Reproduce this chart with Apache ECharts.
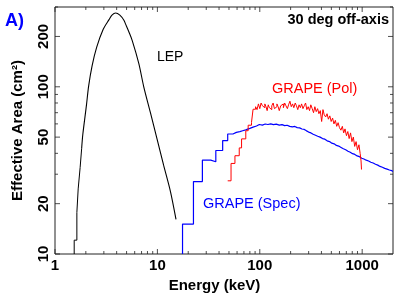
<!DOCTYPE html>
<html>
<head>
<meta charset="utf-8">
<script src="https://cdn.jsdelivr.net/npm/echarts@6/dist/echarts.min.js"></script>
<style>
html,body{margin:0;padding:0;background:#fff;}
#c{width:408px;height:298px;}
</style>
</head>
<body>
<div id="c"></div>
<script>
// ---- data (energy keV, effective area cm^2) ----
const lepSteps = [[1.54,10],[1.54,12.1],[1.635,17.7],[1.684,24.5],[1.76,32.9],[1.82,42.6]];
const lepCurve = [[1.82,42.6],[1.87,52],[2.03,78],[2.13,101],[2.3,133],[2.55,172],[2.95,220],[3.37,252],[3.6,268],[3.91,276],[4.3,268],[4.71,250],[4.89,237],[5.25,214],[5.68,189],[6.58,138],[7.36,100],[8.55,70],[9.93,48.7],[11.5,34],[13.4,23.7],[15.2,16.1]];
const specSteps = [[17.6,10],[17.6,15.1],[22.5,27.1],[27.5,36.4],[33.2,35.6],[37.2,41.6],[43.4,47.7],[48.6,52.2],[54.7,53.4],[59,53.9],[63.9,54.6],[68,55.0],[71.5,55.8],[76,56.4],[80,57.4],[86,58.3],[92.9,59.5],[99,59.0],[106,59.9],[113,59.5],[120,60.0],[128,59.4],[136,59.8],[145,59.0],[155,59.4],[165,58.6],[175,58.9],[185,58.0],[196,57.6],[208,57.9],[220,57.0],[232,56.8],[245,55.9],[258,55.6],[272,54.5],[286,53.6],[300,53.0],[316,52.0],[332,51.3],[350,50.6],[368,50.0],[388,49.0],[410,48.6],[432,47.5],[455,47.0],[480,46.0],[505,45.6],[532,44.6],[560,44.2],[590,43.4],[622,42.6],[655,42.0],[690,41.2],[727,40.6],[765,39.8],[805,39.4],[848,38.6],[893,38.2],[940,37.4],[990,37.0],[1040,36.4],[1095,36.0],[1155,35.4],[1215,35.0],[1280,34.4],[1350,34.0],[1420,33.4],[1495,33.0],[1575,32.5],[1660,32.2],[1750,31.8],[1845,31.5],[1945,31.2],[2000,31.2]];
const polSteps = [[48.6,27.4],[52.4,34.8],[57.2,38.7],[63,43.1],[66.4,48.8],[73,54.6],[77,58.9],[83,61.2],[86,73.4],[91,76],[94,73],[97,79],[100,74],[103,80],[106,77],[109,75],[112,79],[115,76],[118,72],[121,78],[124,75],[128,73],[131,77],[135,80],[139,74],[143,76],[147,79],[151,76],[155,72],[160,77],[165,79],[170,75],[175,80],[180,77],[186,74],[191,78],[197,82],[203,76],[209,79],[215,75],[222,80],[228,77],[235,73],[242,78],[249,75],[256,79],[264,74],[272,77],[280,80],[288,73],[297,76],[306,72],[315,78],[325,74],[335,70],[345,76],[356,71],[367,74],[378,69],[390,72],[402,62],[414,73],[426,68],[440,66],[454,69],[468,64],[483,67],[498,62],[514,65],[530,60],[547,63],[564,58],[582,61],[600,57],[620,55],[640,58],[660,53],[680,56],[702,51],[724,54],[746,49],[770,53],[794,47],[820,50],[845,44],[872,47],[900,42],[930,45],[955,40],[975,36],[985,32]];
const xTickLabels = [1,10,100,1000];
const xMinorTicks = [2,3,4,5,6,7,8,9,20,30,40,50,60,70,80,90,200,300,400,500,600,700,800,900];
const yTickLabels = [10,20,50,100,200];
const yMinorTicks = [30,40,60,70,80,90,300];
const xRange = [1,2000];
const yRange = [10,300];

const lg = v => Math.log10(v);
const FONT = 'Liberation Sans';
const tickColor = '#222';

function labelAxis(pos, range, labels, dim){
  const ax = {
    type:'value', position:pos, min:lg(range[0]), max:lg(range[1]),
    splitLine:{show:false},
    axisLine:{show:false, onZero:false},
    axisTick:{show:false},
    axisLabel:{show:true, customValues:labels.map(lg), formatter:v=>String(Math.round(Math.pow(10,v))),
      fontFamily:FONT, fontWeight:'bold', fontSize:15, color:'#000', margin:4},
    silent:true
  };
  if (dim==='y') ax.axisLabel.rotate = 90;
  return ax;
}

const xAxes = [
  {type:'log', min:xRange[0], max:xRange[1], show:false, axisLine:{onZero:false}},
  Object.assign(labelAxis('bottom', xRange, xTickLabels, 'x'),
    {name:'Energy (keV)', nameLocation:'middle', nameGap:24,
     nameTextStyle:{fontFamily:FONT, fontWeight:'bold', fontSize:15, color:'#000', padding:[0,19,0,0]}})
];
const yAxes = [
  {type:'log', min:yRange[0], max:yRange[1], show:false, axisLine:{onZero:false}},
  Object.assign(labelAxis('left', yRange, yTickLabels, 'y'),
    {name:'Effective Area (cm²)', nameLocation:'middle', nameGap:30,
     nameTextStyle:{fontFamily:FONT, fontWeight:'bold', fontSize:15, color:'#000'}})
];

function lineSeries(data, color, width, opts){
  return Object.assign({type:'line', data:data, xAxisIndex:0, yAxisIndex:0, symbol:'none',
    lineStyle:{color:color, width:width}, itemStyle:{color:color}, silent:true, clip:true}, opts||{});
}

// inward tick marks placed through the log scales
function tickSeries(side, majors, minors){
  const horiz = side==='bottom' || side==='top';
  const pts = [];
  majors.forEach(v => pts.push({v:v, len:5}));
  minors.forEach(v => pts.push({v:v, len:3}));
  const data = pts.map(p => {
    let d;
    if (side==='bottom') d=[p.v, yRange[0]];
    else if (side==='top') d=[p.v, yRange[1]];
    else if (side==='left') d=[xRange[0], p.v];
    else d=[xRange[1], p.v];
    const size = horiz ? [1, p.len] : [p.len, 1];
    const off = side==='bottom' ? [0, -p.len/2] : side==='top' ? [0, p.len/2] : side==='left' ? [p.len/2, 0] : [-p.len/2, 0];
    return {value:d, symbolSize:size, symbolOffset:off};
  });
  return {type:'scatter', data:data, xAxisIndex:0, yAxisIndex:0, symbol:'rect', clip:false, silent:true,
    itemStyle:{color:tickColor}, z:1};
}

const chart = echarts.init(document.getElementById('c'), null, {renderer:'canvas'});
chart.setOption({
  animation:false,
  grid:{left:55, top:7, width:338, height:250, containLabel:false, show:true, borderColor:'#222', borderWidth:1, backgroundColor:'transparent'},
  xAxis:xAxes,
  yAxis:yAxes,
  series:[
    tickSeries('bottom', xTickLabels, xMinorTicks),
    tickSeries('top', xTickLabels, xMinorTicks),
    tickSeries('left', yTickLabels, yMinorTicks),
    tickSeries('right', yTickLabels, yMinorTicks),
    lineSeries(lepSteps, '#000', 1, {step:'end'}),
    lineSeries(lepCurve, '#000', 1.1, {smooth:0.3}),
    lineSeries(specSteps, '#0000ff', 1.2, {step:'end'}),
    lineSeries(polSteps, '#ff0000', 1, {step:'end'})
  ],
  graphic:[
    {type:'text', left:5, top:12, style:{text:'A)', fill:'#0000ff', font:'bold 18px "Liberation Sans"'}},
    {type:'text', right:19, top:12, style:{text:'30 deg off-axis', fill:'#000', font:'bold 14.5px "Liberation Sans"'}},
    {type:'text', left:157, top:50, style:{text:'LEP', fill:'#000', font:'14px "Liberation Sans"'}},
    {type:'text', left:272, top:81, style:{text:'GRAPE (Pol)', fill:'#ff0000', font:'14.5px "Liberation Sans"'}},
    {type:'text', left:203, top:196, style:{text:'GRAPE (Spec)', fill:'#0000ff', font:'14.5px "Liberation Sans"'}}
  ]
});
</script>
</body>
</html>
